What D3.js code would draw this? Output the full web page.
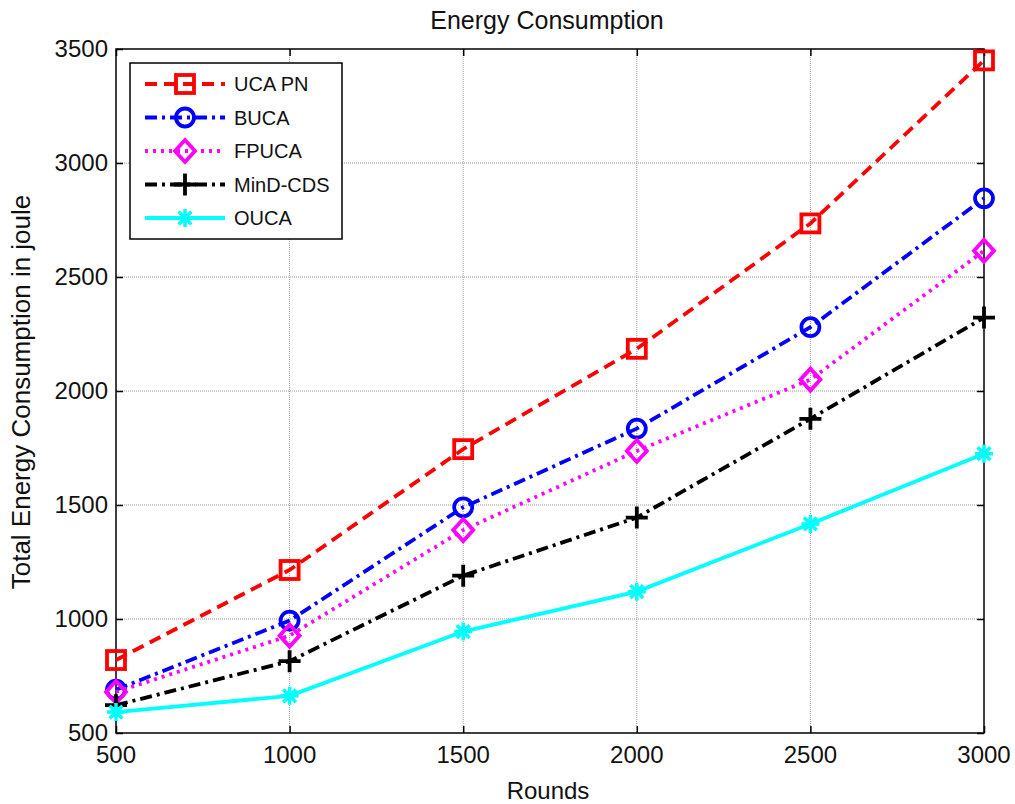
<!DOCTYPE html>
<html>
<head>
<meta charset="utf-8">
<script src="https://cdnjs.cloudflare.com/ajax/libs/d3/7.8.5/d3.min.js"></script>
<style>
  body { margin: 0; background: #fff; }
  text { font-family: "Liberation Sans", Arial, sans-serif; fill: #111; }
</style>
</head>
<body>
<div id="chart"></div>
<script>
// data
var rounds = [500, 1000, 1500, 2000, 2500, 3000];
var ucapn = [820, 1215, 1745, 2185, 2735, 3450];
var buca = [690, 993, 1490, 1835, 2280, 2845];
var fpuca = [680, 927, 1390, 1737, 2050, 2615];
var mindcds = [622, 815, 1190, 1445, 1878, 2322];
var ouca = [592, 663, 945, 1120, 1417, 1725];
var seriesNames = ["UCA PN", "BUCA", "FPUCA", "MinD-CDS", "OUCA"];
var xTicks = [500, 1000, 1500, 2000, 2500, 3000];
var yTicks = [500, 1000, 1500, 2000, 2500, 3000, 3500];

var width = 1015, height = 804;
var pl = 116, pr = 984, pt = 49, pb = 733;

var svg = d3.select("#chart").append("svg")
  .attr("width", width)
  .attr("height", height);

var x = d3.scaleLinear().domain([500, 3000]).range([pl, pr]);
var y = d3.scaleLinear().domain([500, 3500]).range([pb, pt]);

//grid
svg.append("g").selectAll("line").data(xTicks.slice(1, -1)).enter().append("line")
  .attr("x1", d => x(d)).attr("x2", d => x(d))
  .attr("y1", pt).attr("y2", pb)
  .attr("stroke", "#999").attr("stroke-width", 1).attr("stroke-dasharray", "1,1");
svg.append("g").selectAll("line").data(yTicks.slice(1, -1)).enter().append("line")
  .attr("y1", d => y(d)).attr("y2", d => y(d))
  .attr("x1", pl).attr("x2", pr)
  .attr("stroke", "#999").attr("stroke-width", 1).attr("stroke-dasharray", "1,1");

//axes, ticks pointing inward like matlab
var tl = 7;
svg.append("g").attr("transform", "translate(0," + pb + ")")
  .call(d3.axisTop(x).tickValues(xTicks).tickSize(tl).tickFormat(""))
  .call(g => g.select(".domain").remove());
svg.append("g").attr("transform", "translate(0," + pt + ")")
  .call(d3.axisBottom(x).tickValues(xTicks).tickSize(tl).tickFormat(""))
  .call(g => g.select(".domain").remove());
svg.append("g").attr("transform", "translate(" + pl + ",0)")
  .call(d3.axisRight(y).tickValues(yTicks).tickSize(tl).tickFormat(""))
  .call(g => g.select(".domain").remove());
svg.append("g").attr("transform", "translate(" + pr + ",0)")
  .call(d3.axisLeft(y).tickValues(yTicks).tickSize(tl).tickFormat(""))
  .call(g => g.select(".domain").remove());
svg.selectAll(".tick line").attr("stroke", "#000").attr("stroke-width", 1.5);

svg.append("rect")
  .attr("x", pl).attr("y", pt)
  .attr("width", pr - pl).attr("height", pb - pt)
  .attr("fill", "none").attr("stroke", "#000").attr("stroke-width", 1.5);

//tick labels
svg.append("g").selectAll("text").data(xTicks).enter().append("text")
  .attr("x", d => x(d)).attr("y", pb + 30)
  .attr("text-anchor", "middle").style("font-size", "24px")
  .text(d => d);
svg.append("g").selectAll("text").data(yTicks).enter().append("text")
  .attr("x", pl - 8).attr("y", d => y(d) + 8)
  .attr("text-anchor", "end").style("font-size", "24px")
  .text(d => d);

//titles
svg.append("text").attr("x", 547).attr("y", 29).attr("text-anchor", "middle")
  .style("font-size", "25px").text("Energy Consumption");
svg.append("text").attr("x", 548).attr("y", 799).attr("text-anchor", "middle")
  .style("font-size", "24px").text("Rounds");
svg.append("text").attr("transform", "translate(30,392) rotate(-90)")
  .attr("text-anchor", "middle").style("font-size", "26px")
  .text("Total Energy Consumption in joule");

var series = [
  { name: seriesNames[0], values: ucapn, color: "#ff0000", dash: "12,7", marker: "square" },
  { name: seriesNames[1], values: buca, color: "#0000ff", dash: "12,5,3,5", marker: "circle" },
  { name: seriesNames[2], values: fpuca, color: "#ff00ff", dash: "3,5", marker: "diamond" },
  { name: seriesNames[3], values: mindcds, color: "#000000", dash: "12,5,3,5", marker: "plus" },
  { name: seriesNames[4], values: ouca, color: "#00ffff", dash: null, marker: "star" }
];

var line = d3.line().x(d => x(d[0])).y(d => y(d[1]));

function drawMarker(g, kind, cx, cy, color) {
  if (kind == "square") {
    g.append("rect").attr("x", cx - 9).attr("y", cy - 9).attr("width", 18).attr("height", 18)
      .attr("fill", "none").attr("stroke", color).attr("stroke-width", 3.8);
  } else if (kind == "circle") {
    g.append("circle").attr("cx", cx).attr("cy", cy).attr("r", 9)
      .attr("fill", "none").attr("stroke", color).attr("stroke-width", 3.8);
  } else if (kind == "diamond") {
    g.append("path").attr("d", "M" + cx + "," + (cy - 11) + "L" + (cx + 10) + "," + cy + "L" + cx + "," + (cy + 11) + "L" + (cx - 10) + "," + cy + "Z")
      .attr("fill", "none").attr("stroke", color).attr("stroke-width", 3.8);
  } else if (kind == "plus") {
    g.append("path").attr("d", "M" + (cx - 11) + "," + cy + "H" + (cx + 11) + "M" + cx + "," + (cy - 11) + "V" + (cy + 11))
      .attr("stroke", color).attr("stroke-width", 3.8);
  } else {
    var p = "";
    for (var a = 0; a < 4; a++) {
      var ang = a * Math.PI / 4;
      var dx = Math.cos(ang) * 9, dy = Math.sin(ang) * 9;
      p += "M" + (cx - dx) + "," + (cy - dy) + "L" + (cx + dx) + "," + (cy + dy);
    }
    g.append("path").attr("d", p).attr("stroke", color).attr("stroke-width", 3.5);
    g.append("circle").attr("cx", cx).attr("cy", cy).attr("r", 4.5).attr("fill", color);
  }
}

series.forEach(function(s) {
  var pts = rounds.map((r, i) => [r, s.values[i]]);
  var g = svg.append("g");
  g.append("path").datum(pts).attr("d", line)
    .attr("fill", "none").attr("stroke", s.color).attr("stroke-width", 3.8)
    .attr("stroke-dasharray", s.dash);
  pts.forEach(p => drawMarker(g, s.marker, x(p[0]), y(p[1]), s.color));
});

//legend
var lg = svg.append("g");
lg.append("rect").attr("x", 130).attr("y", 63).attr("width", 212).attr("height", 176)
  .attr("fill", "#fff").attr("stroke", "#000").attr("stroke-width", 1.5);
series.forEach(function(s, i) {
  var ly = 84 + i * 33.5;
  lg.append("line").attr("x1", 145).attr("x2", 225).attr("y1", ly).attr("y2", ly)
    .attr("stroke", s.color).attr("stroke-width", 3.8).attr("stroke-dasharray", s.dash);
  drawMarker(lg, s.marker, 185, ly, s.color);
  lg.append("text").attr("x", 234).attr("y", ly + 7).style("font-size", "20px").text(s.name);
});
</script>
</body>
</html>
